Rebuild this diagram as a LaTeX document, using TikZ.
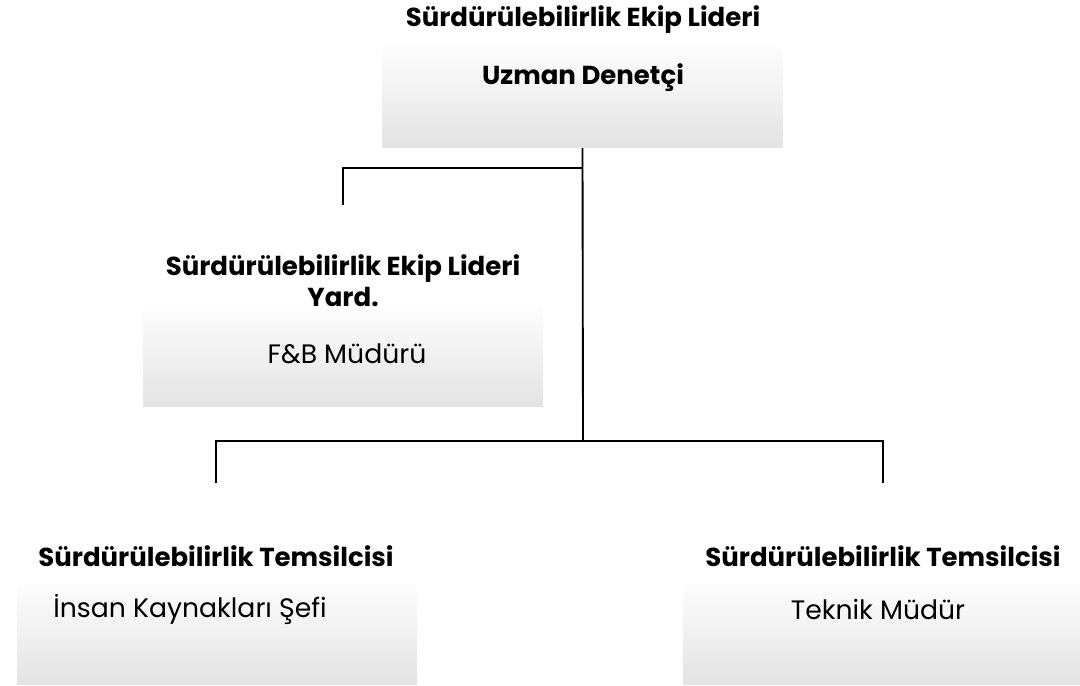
\documentclass[tikz,border=0pt]{standalone}
\usepackage{fontspec}
\setmainfont{Poppins}
\begin{document}
\begin{tikzpicture}[x=0.75pt, y=-0.75pt,
	box/.style={minimum width=300pt, minimum height=80pt, inner sep=0pt, top color=white, bottom color=black!11},
	role/.style={anchor=center, align=center, font=\bfseries\fontsize{19.5}{23}\selectfont},
	person/.style={anchor=center, font=\fontsize{20}{23}\selectfont},
	link/.style={line width=1.4pt}]
	\useasboundingbox (0,0) rectangle (1080,685);

	%top box
	\node[box] (leadbox) at (582.5,94.5) {};
	\node[role] (leadrole) at (583,20) {Sürdürülebilirlik Ekip Lideri};
	\node[role] (leadname) at (583,78) {Uzman Denetçi};

	%assistant box
	\node[box] (yardbox) at (343,353.5) {};
	\node[role] (yardrole) at (343,281) {Sürdürülebilirlik Ekip Lideri\\Yard.};
	\node[person] (yardname) at (347,354) {F\&B Müdürü};

	%representatives
	\node[box] (hrbox) at (217,631.5) {};
	\node[role] (hrrole) at (216,556) {Sürdürülebilirlik Temsilcisi};
	\node[person] (hrname) at (190,609) {İnsan Kaynakları Şefi};

	\node[box] (techbox) at (883,631.5) {};
	\node[role] (techrole) at (883,556) {Sürdürülebilirlik Temsilcisi};
	\node[person] (techname) at (878,609) {Teknik Müdür};

	%connectors
	\coordinate (fork) at (583,168);
	\coordinate (hub) at (583,441);
	\coordinate (yardtop) at (343,205);
	\coordinate (hrtop) at (216,483);
	\coordinate (techtop) at (883,483);
	\draw[link] (leadbox.south) -- (hub);
	\draw[link] (fork) -| (yardtop);
	\draw[link] (hrtop) |- (hub) -| (techtop);
\end{tikzpicture}
\end{document}
